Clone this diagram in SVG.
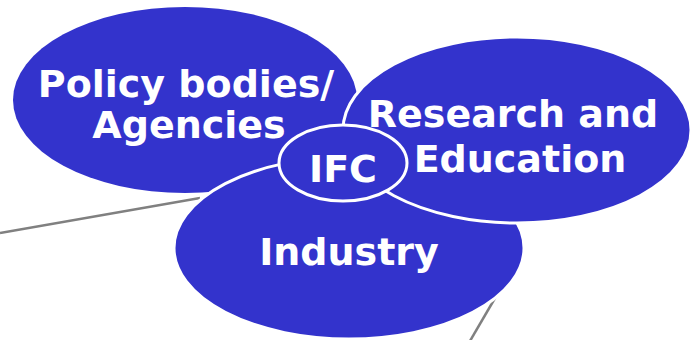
<svg xmlns="http://www.w3.org/2000/svg" width="692" height="340" viewBox="0 0 692 340">
<style>
.bub{fill:#3333CC;stroke:#FFFFFF;stroke-width:3}
.lbl{font-family:"DejaVu Sans",Verdana,sans-serif;font-weight:bold;font-size:38px;fill:#FFFFFF;text-anchor:middle}
.con{stroke:#808080;stroke-width:2.5;fill:none}
</style>
<rect width="692" height="340" fill="#FFFFFF"/>
<g id="connectors">
<line class="con" x1="0" y1="233" x2="200" y2="198"/>
<line class="con" x1="470" y1="341" x2="498" y2="293"/>
</g>
<g id="policy">
<ellipse cx="185" cy="100" rx="172" ry="93" fill="#3333CC"/>
<text class="lbl" x="186" y="97">Policy bodies/</text>
<text class="lbl" x="189" y="138">Agencies</text>
</g>
<g id="industry">
<ellipse class="bub" cx="349" cy="248" rx="175" ry="91"/>
<text class="lbl" x="349" y="265">Industry</text>
</g>
<g id="research">
<ellipse class="bub" cx="517" cy="130" rx="174" ry="93"/>
<text class="lbl" x="513" y="127">Research and</text>
<text class="lbl" x="520" y="172">Education</text>
</g>
<g id="ifc">
<ellipse class="bub" cx="343" cy="163" rx="64" ry="38"/>
<text class="lbl" x="343" y="182">IFC</text>
</g>
</svg>
